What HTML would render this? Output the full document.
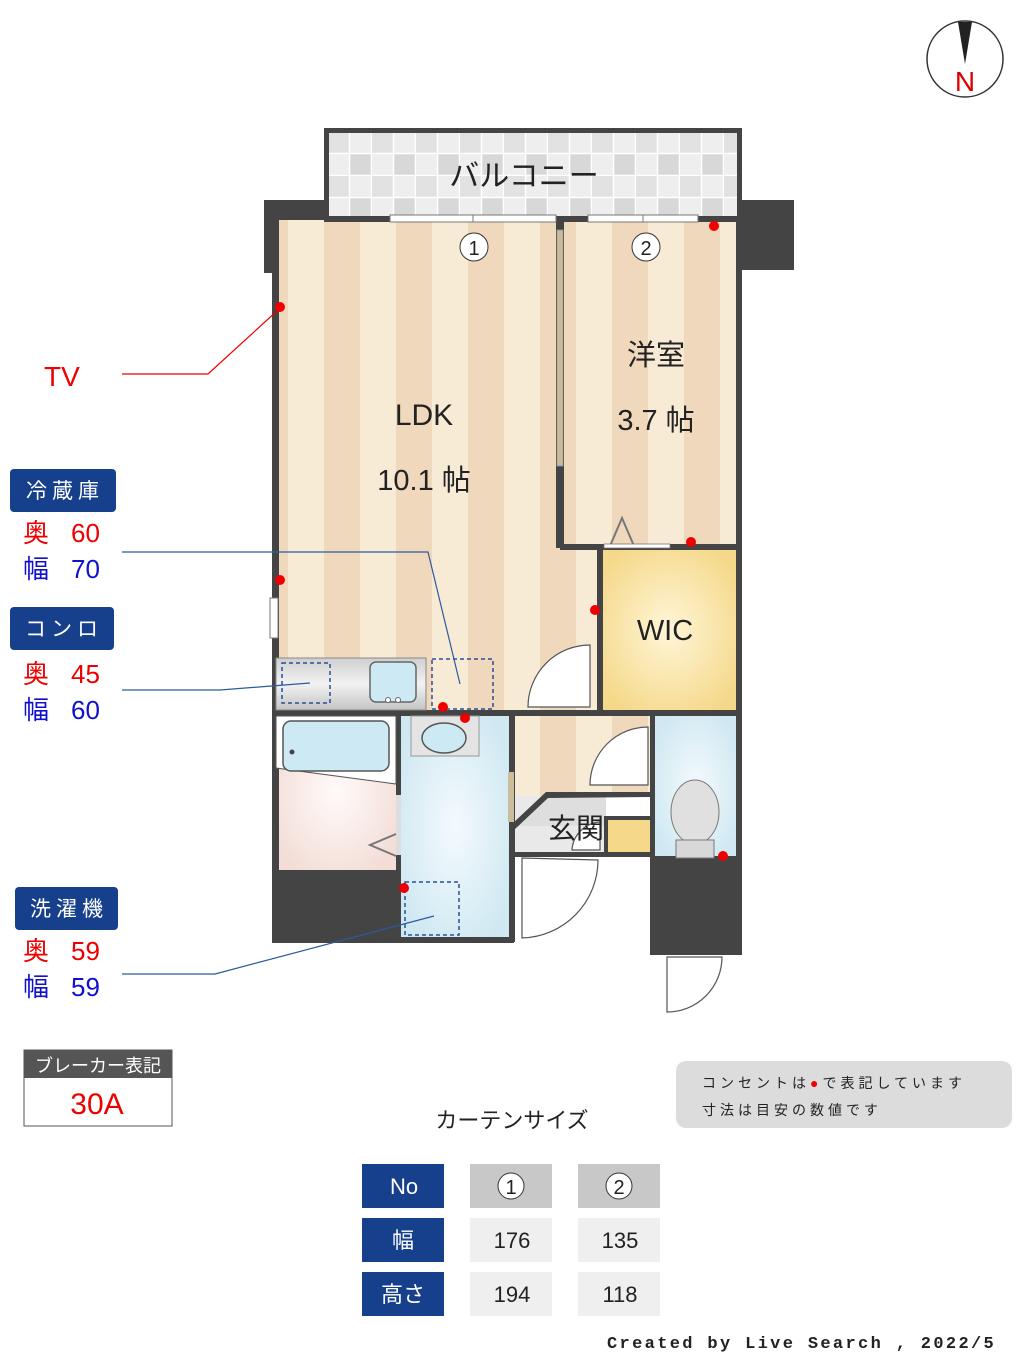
<!DOCTYPE html>
<html><head><meta charset="utf-8"><style>
html,body{margin:0;padding:0;background:#fff}
svg{display:block}
text{font-family:"Liberation Sans","Noto Sans CJK JP",sans-serif}
</style></head><body>
<svg width="1024" height="1365" viewBox="0 0 1024 1365" xmlns="http://www.w3.org/2000/svg">
<defs>
<pattern id="st" x="0" y="0" width="72" height="10" patternUnits="userSpaceOnUse">
<rect width="36" height="10" fill="#f8ebd6"/><rect x="36" width="36" height="10" fill="#f0d8bc"/>
</pattern>
<pattern id="tile" x="328" y="132" width="44" height="44" patternUnits="userSpaceOnUse">
<rect width="44" height="44" fill="#eeeeee"/>
<rect x="0" y="0" width="21" height="21" fill="#e2e2e2"/>
<rect x="22" y="22" width="21" height="21" fill="#d8d8d8"/>
<path d="M0 21.5H44M0 43.5H44M21.5 0V44M43.5 0V44" stroke="#fff" stroke-width="1.5"/>
</pattern>
<radialGradient id="yel" cx="50%" cy="50%" r="60%"><stop offset="0" stop-color="#fff6d8"/><stop offset="1" stop-color="#f5d88a"/></radialGradient>
<radialGradient id="blu" cx="50%" cy="50%" r="60%"><stop offset="0" stop-color="#f4fafd"/><stop offset="1" stop-color="#cfe8f2"/></radialGradient>
<radialGradient id="pnk" cx="50%" cy="50%" r="60%"><stop offset="0" stop-color="#fffafa"/><stop offset="1" stop-color="#f3ddd6"/></radialGradient>
<linearGradient id="cnt" x1="0" y1="0" x2="0" y2="1"><stop offset="0" stop-color="#cfcfcf"/><stop offset=".5" stop-color="#f2f2f2"/><stop offset="1" stop-color="#c4c4c4"/></linearGradient>
</defs>

<circle cx="965" cy="59" r="38" fill="#fff" stroke="#333" stroke-width="1.5"/>
<polygon points="958,22 972,22 965,64" fill="#222"/>
<text x="965" y="91" font-size="28" fill="#d00" text-anchor="middle">N</text>

<rect x="324" y="128" width="418" height="92" fill="#444"/>
<rect x="329" y="133" width="408" height="85" fill="url(#tile)"/>
<text x="524" y="186" font-size="30" fill="#222" text-anchor="middle">バルコニー</text>

<rect x="264" y="200" width="64" height="73" fill="#444"/>
<rect x="740" y="200" width="54" height="70" fill="#444"/>

<rect x="278" y="220" width="284" height="492" fill="url(#st)"/>
<rect x="562" y="220" width="178" height="326" fill="url(#st)"/>
<rect x="562" y="546" width="38" height="166" fill="url(#st)"/>
<rect x="600" y="550" width="138" height="160" fill="url(#yel)"/>
<rect x="514" y="716" width="138" height="80" fill="url(#st)"/>
<rect x="514" y="796" width="92" height="60" fill="#e9e9e9"/>
<polygon points="514,826 546,796 606,796 606,826" fill="#dedede"/>
<rect x="608" y="818" width="42" height="38" fill="#f5d88a"/>
<rect x="654" y="716" width="84" height="142" fill="url(#blu)"/>
<rect x="400" y="716" width="110" height="222" fill="url(#blu)"/>
<rect x="276" y="716" width="120" height="154" fill="url(#pnk)"/>

<g fill="#444">
<rect x="272" y="218" width="7" height="724"/>
<rect x="736" y="218" width="6" height="737"/>
<rect x="324" y="216" width="418" height="6"/>
<rect x="556" y="222" width="8" height="326"/>
<rect x="560" y="544" width="182" height="6"/>
<rect x="597" y="546" width="6" height="168"/>
<rect x="272" y="710" width="470" height="6"/>
<rect x="396" y="712" width="5" height="230"/>
<rect x="509" y="712" width="6" height="230"/>
<rect x="272" y="937" width="242" height="6"/>
<rect x="272" y="870" width="126" height="72"/>
<rect x="650" y="712" width="5" height="146"/>
<rect x="650" y="856" width="92" height="99"/>
<rect x="512" y="852" width="140" height="5"/>
<rect x="604" y="816" width="48" height="4"/>
<rect x="604" y="816" width="4" height="40"/>
</g>
<polygon points="512,824 546,792 652,792 652,797 548,798 514,830" fill="#444"/>

<rect x="390" y="215" width="166" height="7" fill="#fff" stroke="#777" stroke-width="1"/>
<line x1="473" y1="215" x2="473" y2="222" stroke="#777"/>
<rect x="588" y="215" width="110" height="7" fill="#fff" stroke="#777" stroke-width="1"/>
<line x1="643" y1="215" x2="643" y2="222" stroke="#777"/>
<rect x="270" y="598" width="8" height="40" fill="#fff" stroke="#777"/>
<rect x="557" y="230" width="6" height="236" fill="#cbbd9c" stroke="#999" stroke-width=".8"/>
<rect x="508" y="772" width="6" height="50" fill="#cbbd9c"/>
<rect x="396" y="795" width="5" height="60" fill="#ddd"/>

<rect x="276" y="658" width="150" height="52" fill="url(#cnt)" stroke="#888"/>
<rect x="370" y="662" width="46" height="40" rx="6" fill="#cde9f3" stroke="#666" stroke-width="1.5"/>
<circle cx="388" cy="700" r="2.5" fill="#fff" stroke="#666"/><circle cx="398" cy="700" r="2.5" fill="#fff" stroke="#666"/>
<rect x="282" y="663" width="48" height="40" fill="none" stroke="#2a4f9a" stroke-width="1.5" stroke-dasharray="4,3"/>
<rect x="432" y="659" width="61" height="50" fill="none" stroke="#2a4f9a" stroke-width="1.5" stroke-dasharray="4,3"/>

<polygon points="276,716 396,716 396,784 276,768" fill="#fff" stroke="#555"/>
<rect x="283" y="721" width="106" height="50" rx="8" fill="#cde9f3" stroke="#555" stroke-width="1.5"/>
<circle cx="292" cy="752" r="2.5" fill="#444"/>
<polyline points="396,834 370,845 396,856" fill="none" stroke="#777" stroke-width="2"/>
<rect x="411" y="716" width="68" height="40" fill="#e4e4e4" stroke="#999"/>
<ellipse cx="444" cy="738" rx="22" ry="15" fill="#cde9f3" stroke="#555" stroke-width="1.5"/>
<rect x="405" y="882" width="54" height="53" fill="none" stroke="#2a4f9a" stroke-width="1.5" stroke-dasharray="4,3"/>
<ellipse cx="695" cy="812" rx="24" ry="32" fill="#e0e0e0" stroke="#777"/>
<rect x="676" y="840" width="38" height="18" fill="#d8d8d8" stroke="#777"/>

<g fill="#fff" stroke="#555" stroke-width="1.2">
<path d="M590,645 A62,62 0 0 0 528,707 L590,707 Z"/>
<path d="M648,727 A58,58 0 0 0 590,785 L648,785 Z"/>
<path d="M522,858 L522,938 A78,78 0 0 0 598,860 Z"/>
<path d="M667,957 L667,1012 A55,55 0 0 0 722,957 Z"/>
<path d="M600,822 A30,30 0 0 0 572,850 L600,850 Z"/>
</g>
<polyline points="610,546 622,518 634,546" fill="none" stroke="#777" stroke-width="2"/>
<rect x="604" y="544" width="66" height="4" fill="#fff" stroke="#777" stroke-width=".8"/>

<g fill="#e00">
<circle cx="714" cy="226" r="5"/><circle cx="280" cy="307" r="5"/><circle cx="691" cy="542" r="5"/>
<circle cx="280" cy="580" r="5"/><circle cx="595" cy="610" r="5"/><circle cx="443" cy="707" r="5"/>
<circle cx="465" cy="718" r="5"/><circle cx="404" cy="888" r="5"/><circle cx="723" cy="856" r="5"/>
</g>

<circle cx="474" cy="247" r="14" fill="#fff" stroke="#333"/><text x="474" y="255" font-size="20" text-anchor="middle" fill="#222">1</text>
<circle cx="646" cy="247" r="14" fill="#fff" stroke="#333"/><text x="646" y="255" font-size="20" text-anchor="middle" fill="#222">2</text>
<text x="424" y="425" font-size="30" text-anchor="middle" fill="#222">LDK</text>
<text x="424" y="490" font-size="29" text-anchor="middle" fill="#222">10.1 帖</text>
<text x="656" y="365" font-size="29" text-anchor="middle" fill="#222">洋室</text>
<text x="656" y="430" font-size="29" text-anchor="middle" fill="#222">3.7 帖</text>
<text x="665" y="640" font-size="29" text-anchor="middle" fill="#222">WIC</text>
<text x="576" y="838" font-size="28" text-anchor="middle" fill="#222">玄関</text>

<text x="44" y="386" font-size="28" fill="#e00">TV</text>
<polyline points="122,374 208,374 278,310" fill="none" stroke="#e00" stroke-width="1.2"/>
<g fill="#17408c">
<rect x="10" y="469" width="106" height="43" rx="4"/>
<rect x="10" y="607" width="104" height="43" rx="4"/>
<rect x="15" y="887" width="103" height="43" rx="4"/>
</g>
<g font-size="21" fill="#fff" text-anchor="middle" letter-spacing="5">
<text x="65" y="498">冷蔵庫</text><text x="64" y="636">コンロ</text><text x="69" y="916">洗濯機</text>
</g>
<g font-size="26">
<text x="23" y="542" fill="#e00">奥</text><text x="71" y="542" fill="#e00">60</text>
<text x="23" y="578" fill="#11c">幅</text><text x="71" y="578" fill="#11c">70</text>
<text x="23" y="683" fill="#e00">奥</text><text x="71" y="683" fill="#e00">45</text>
<text x="23" y="719" fill="#11c">幅</text><text x="71" y="719" fill="#11c">60</text>
<text x="23" y="960" fill="#e00">奥</text><text x="71" y="960" fill="#e00">59</text>
<text x="23" y="996" fill="#11c">幅</text><text x="71" y="996" fill="#11c">59</text>
</g>
<g fill="none" stroke="#2a5aa0" stroke-width="1.2">
<polyline points="122,552 428,552 460,684"/>
<polyline points="122,690 220,690 310,683"/>
<polyline points="122,974 215,974 434,916"/>
</g>

<rect x="24" y="1050" width="148" height="76" fill="#fff" stroke="#555"/>
<rect x="24" y="1050" width="148" height="28" fill="#555"/>
<text x="98" y="1072" font-size="18" fill="#fff" text-anchor="middle">ブレーカー表記</text>
<text x="97" y="1114" font-size="30" fill="#e00" text-anchor="middle">30A</text>

<rect x="676" y="1061" width="336" height="67" rx="10" fill="#dcdcdc"/>
<text x="702" y="1088" font-size="14" fill="#222" letter-spacing="4">コンセントは<tspan fill="#e00">●</tspan>で表記しています</text>
<text x="702" y="1115" font-size="14" fill="#222" letter-spacing="4">寸法は目安の数値です</text>

<text x="512" y="1128" font-size="22" fill="#222" text-anchor="middle">カーテンサイズ</text>
<g fill="#17408c"><rect x="362" y="1164" width="82" height="44"/><rect x="362" y="1218" width="82" height="44"/><rect x="362" y="1272" width="82" height="44"/></g>
<rect x="470" y="1164" width="82" height="44" fill="#c8c8c8"/><rect x="578" y="1164" width="82" height="44" fill="#c8c8c8"/>
<g fill="#efefef"><rect x="470" y="1218" width="82" height="44"/><rect x="578" y="1218" width="82" height="44"/><rect x="470" y="1272" width="82" height="44"/><rect x="578" y="1272" width="82" height="44"/></g>
<g font-size="22" text-anchor="middle">
<text x="404" y="1194" fill="#fff">No</text><text x="403" y="1248" fill="#fff">幅</text><text x="403" y="1302" fill="#fff">高さ</text>
<text x="512" y="1248" fill="#222">176</text><text x="620" y="1248" fill="#222">135</text>
<text x="512" y="1302" fill="#222">194</text><text x="620" y="1302" fill="#222">118</text>
</g>
<circle cx="511" cy="1186" r="13" fill="#fff" stroke="#333"/><text x="511" y="1194" font-size="20" text-anchor="middle" fill="#222">1</text>
<circle cx="619" cy="1186" r="13" fill="#fff" stroke="#333"/><text x="619" y="1194" font-size="20" text-anchor="middle" fill="#222">2</text>

<text x="607" y="1348" font-size="17" font-weight="bold" fill="#222" letter-spacing="2.35" style="font-family:'Liberation Mono',monospace">Created by Live Search , 2022/5</text>
</svg>
</body></html>
